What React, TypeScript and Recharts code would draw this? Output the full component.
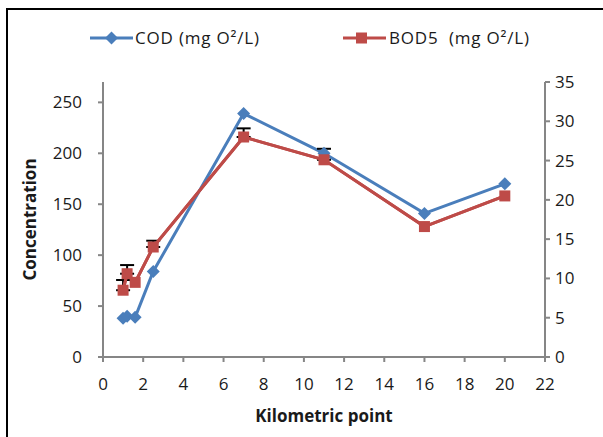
import React from "react";
import { LineChart, Line, XAxis, YAxis, ErrorBar } from "recharts";

// kilometric points (x) and measured values
const kmPoints = [1, 1.2, 1.6, 2.5, 7, 11, 16, 20];
const codValues = [38, 40, 39, 84, 239, 200, 141, 170];
const bodValues = [8.5, 10.6, 9.5, 14.0, 28.0, 25.1, 16.6, 20.5];
// upper error on BOD5, null where no bar is visible
const bodErrors = [1.3, 1.1, null, 0.8, 1.1, 1.4, null, null];

const xTicks = [0, 2, 4, 6, 8, 10, 12, 14, 16, 18, 20, 22];
const leftTicks = [0, 50, 100, 150, 200, 250];
const rightTicks = [0, 5, 10, 15, 20, 25, 30, 35];

const BLUE = "#4A7EBB";
const RED = "#BE4B48";
const AXIS = "#868686";
const TEXT = "#1a1a1a";
const FONT = "'Open Sans', sans-serif";

const data = kmPoints.map((km, i) => ({
  km,
  cod: codValues[i],
  bod: bodValues[i],
  bodErr: bodErrors[i] == null ? null : [0, bodErrors[i]],
}));

const Diamond = (props: any) => {
  const { cx, cy } = props;
  if (cx == null || cy == null) return null;
  return <path d={`M${cx},${cy - 6.5}L${cx + 6.5},${cy}L${cx},${cy + 6.5}L${cx - 6.5},${cy}Z`} fill={BLUE} />;
};

const Square = (props: any) => {
  const { cx, cy } = props;
  if (cx == null || cy == null) return null;
  return <rect x={cx - 5.5} y={cy - 5.5} width={11} height={11} fill={RED} />;
};

const YTitle = (props: any) => {
  const { viewBox } = props;
  const x = viewBox.x - 14;
  const y = viewBox.y + viewBox.height / 2;
  return (
    <text x={x} y={y} transform={`rotate(-90, ${x}, ${y})`} textAnchor="middle" dominantBaseline="central" fontFamily={FONT} fontWeight="bold" fontSize={17} fill={TEXT}>
      Concentration
    </text>
  );
};

const XTitle = (props: any) => {
  const { viewBox } = props;
  const x = viewBox.x + viewBox.width / 2;
  return (
    <text x={x} y={415} textAnchor="middle" dominantBaseline="central" fontFamily={FONT} fontWeight="bold" fontSize={17} fill={TEXT}>
      Kilometric point
    </text>
  );
};

const legendText: React.CSSProperties = {
  position: "absolute",
  top: 26,
  fontFamily: FONT,
  fontSize: 17,
  letterSpacing: 0.8,
  color: TEXT,
  whiteSpace: "pre",
  lineHeight: "24px",
};

const App = () => {
  const tickStyle = { fontFamily: FONT, fontSize: 17, fill: TEXT };
  return (
    <div style={{ position: "absolute", left: 0, top: 0, width: 603, height: 437, overflow: "hidden", background: "#fff" }}>
      <div style={{ position: "absolute", left: 6, top: 8, width: 700, height: 500, border: "2.5px solid #000" }} />
      {/* legend */}
      <svg style={{ position: "absolute", left: 0, top: 0 }} width={603} height={60}>
        <line x1={90} y1={38} x2={133} y2={38} stroke={BLUE} strokeWidth={3} />
        <path d="M111.5,31.5L118,38L111.5,44.5L105,38Z" fill={BLUE} />
        <line x1={343} y1={38} x2={386} y2={38} stroke={RED} strokeWidth={3} />
        <rect x={356} y={32.5} width={11} height={11} fill={RED} />
      </svg>
      <div style={{ ...legendText, left: 135 }}>COD (mg O²/L)</div>
      <div style={{ ...legendText, left: 389 }}>BOD5  (mg O²/L)</div>
      <div style={{ position: "absolute", left: 0, top: 0 }}>
        <LineChart width={603} height={437} data={data} margin={{ top: 82, right: 8, left: 43, bottom: 40 }}>
          <XAxis
            dataKey="km"
            type="number"
            domain={[0, 22]}
            ticks={xTicks}
            interval={0}
            height={40}
            stroke={AXIS}
            strokeWidth={2}
            tickSize={5}
            tickMargin={16}
            tick={tickStyle}
            label={<XTitle />}
          />
          <YAxis
            yAxisId="left"
            type="number"
            domain={[0, 270]}
            ticks={leftTicks}
            interval={0}
            width={60}
            stroke={AXIS}
            strokeWidth={2}
            tickSize={5}
            tickMargin={16}
            tick={tickStyle}
            label={<YTitle />}
          />
          <YAxis
            yAxisId="right"
            orientation="right"
            type="number"
            domain={[0, 35]}
            ticks={rightTicks}
            interval={0}
            width={50}
            stroke={AXIS}
            strokeWidth={2}
            tickSize={5}
            tickMargin={5}
            tick={tickStyle}
          />
          <Line
            yAxisId="left"
            dataKey="cod"
            stroke={BLUE}
            strokeWidth={3}
            dot={<Diamond />}
            activeDot={false}
            isAnimationActive={false}
          />
          {/* BOD5 error bars first, so the markers cover their lower end */}
          <Line
            yAxisId="right"
            dataKey="bod"
            stroke={RED}
            strokeWidth={3}
            dot={false}
            activeDot={false}
            isAnimationActive={false}
          >
            <ErrorBar dataKey="bodErr" direction="y" stroke="#000" strokeWidth={2} width={7} />
          </Line>
          <Line
            yAxisId="right"
            dataKey="bod"
            stroke={RED}
            strokeWidth={3}
            dot={<Square />}
            activeDot={false}
            isAnimationActive={false}
          />
        </LineChart>
      </div>
    </div>
  );
};

export default App;
